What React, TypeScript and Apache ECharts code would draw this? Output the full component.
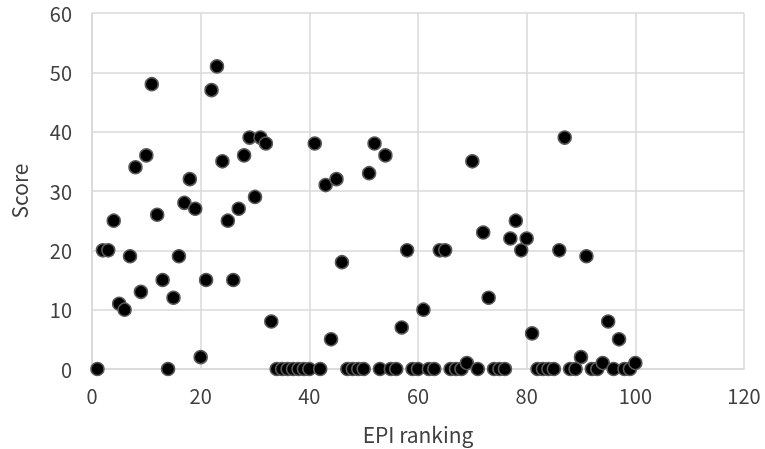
import React, { useEffect, useRef } from "react";
import * as echarts from "echarts";

const ranks: number[] = Array.from({ length: 100 }, (_, i) => i + 1);
const scores: number[] = [
  0, 20, 20, 25, 11, 10, 19, 34, 13, 36,
  48, 26, 15, 0, 12, 19, 28, 32, 27, 2,
  15, 47, 51, 35, 25, 15, 27, 36, 39, 29,
  39, 38, 8, 0, 0, 0, 0, 0, 0, 0,
  38, 0, 31, 5, 32, 18, 0, 0, 0, 0,
  33, 38, 0, 36, 0, 0, 7, 20, 0, 0,
  10, 0, 0, 20, 20, 0, 0, 0, 1, 35,
  0, 23, 12, 0, 0, 0, 22, 25, 20, 22,
  6, 0, 0, 0, 0, 20, 39, 0, 0, 2,
  19, 0, 0, 1, 8, 0, 5, 0, 0, 1,
];
const xTitle = "EPI ranking";
const yTitle = "Score";

export default function App() {
  const ref = useRef<HTMLDivElement>(null);
  useEffect(() => {
    if (!ref.current) return;
    const chart = echarts.init(ref.current, undefined, { renderer: "svg" });
    const font = "'Noto Sans CJK SC', 'Noto Sans', sans-serif";
    chart.setOption({
      animation: false,
      grid: { left: 85, right: 21, top: 13, bottom: 79, containLabel: false },
      xAxis: {
        type: "value",
        min: 0,
        max: 120,
        interval: 20,
        name: xTitle,
        nameLocation: "middle",
        nameGap: 54,
        nameTextStyle: { fontFamily: font, fontSize: 21, color: "#404040" },
        axisLine: { show: true, lineStyle: { color: "#d9d9d9", width: 1.5 } },
        axisTick: { show: false },
        axisLabel: { fontFamily: font, fontSize: 20, lineHeight: 20, color: "#404040", margin: 16 },
        splitLine: { show: true, lineStyle: { color: "#d9d9d9", width: 1.5 } },
      },
      yAxis: {
        type: "value",
        min: 0,
        max: 60,
        interval: 10,
        name: yTitle,
        nameLocation: "middle",
        nameGap: 63,
        nameTextStyle: { fontFamily: font, fontSize: 21, color: "#404040" },
        axisLine: { show: true, lineStyle: { color: "#d9d9d9", width: 1.5 } },
        axisTick: { show: false },
        axisLabel: { fontFamily: font, fontSize: 20, lineHeight: 20, color: "#404040", margin: 20 },
        splitLine: { show: true, lineStyle: { color: "#d9d9d9", width: 1.5 } },
      },
      series: [
        {
          type: "scatter",
          data: ranks.map((r, i) => [r, scores[i]]),
          symbol: "circle",
          symbolSize: 13,
          itemStyle: { color: "#000000", borderColor: "#595959", borderWidth: 1.5, opacity: 1 },
        },
      ],
    });
    return () => chart.dispose();
  }, []);
  return (
    <div
      ref={ref}
      style={{ position: "fixed", left: 0, top: 0, width: 765, height: 449 }}
    />
  );
}
